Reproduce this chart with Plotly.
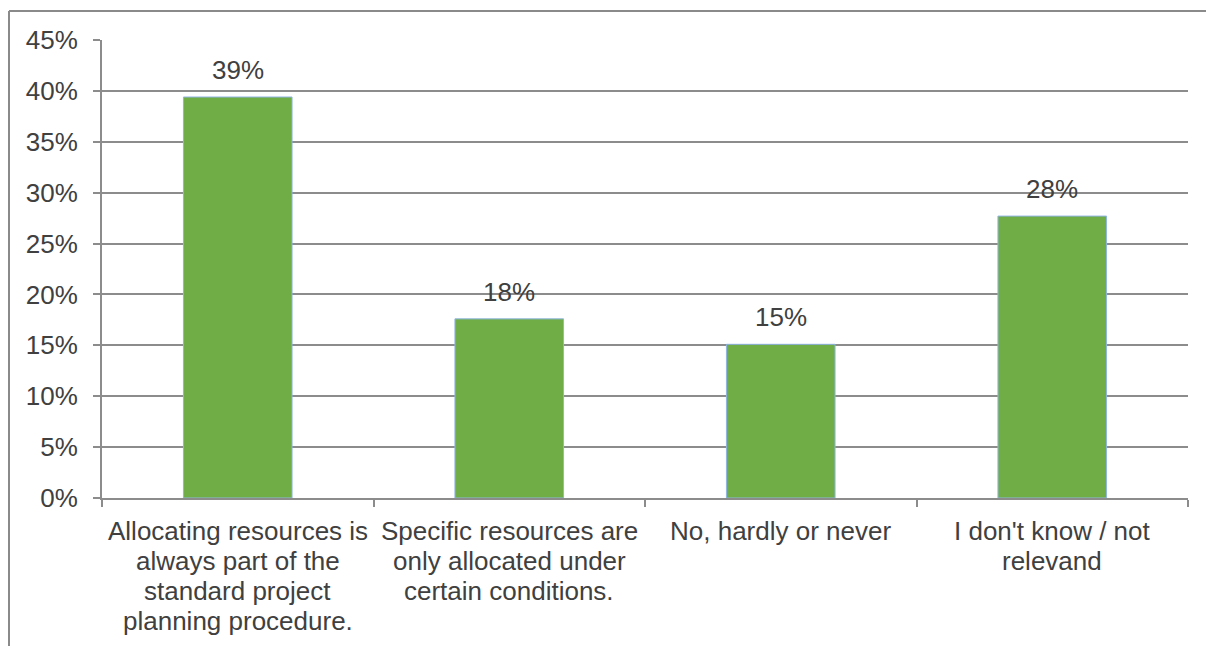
import plotly.graph_objects as go

categories = [
    "Allocating resources is<br>always part of the<br>standard project<br>planning procedure.",
    "Specific resources are<br>only allocated under<br>certain conditions.",
    "No, hardly or never",
    "I don't know / not<br>relevand",
]
values = [0.394, 0.176, 0.151, 0.277]
value_labels = ["39%", "18%", "15%", "28%"]

FONT = "Liberation Sans, Arial, sans-serif"
TXT = "#404040"
GRID = "#8c8c8c"
FS = 26

fig = go.Figure()
fig.add_trace(go.Bar(
    x=categories, y=values, width=0.4,
    marker=dict(color="#70AD47", line=dict(color="#8FB4E3", width=1)),
    cliponaxis=False,
))

# data labels above bars
for c, v, t in zip(categories, values, value_labels):
    fig.add_annotation(x=c, y=v, text=t, showarrow=False, yanchor="middle",
                       yshift=27, font=dict(family=FONT, size=FS, color=TXT))

# category labels, one annotation per line (tighter line spacing as in reference)
for c in categories:
    for i, line in enumerate(c.split("<br>")):
        fig.add_annotation(x=c, y=0, text=line, showarrow=False, yanchor="middle",
                           yshift=-(33 + 30 * i), font=dict(family=FONT, size=FS, color=TXT))

fig.update_layout(
    width=1214, height=646,
    margin=dict(l=94, r=34, t=32, b=156),
    paper_bgcolor="white", plot_bgcolor="white",
    showlegend=False,
    font=dict(family=FONT, size=FS, color=TXT),
)
fig.update_yaxes(
    range=[0, 0.45], dtick=0.05, tickformat=".0%",
    showgrid=True, gridcolor=GRID, gridwidth=2,
    showline=True, linecolor=GRID, linewidth=2,
    ticks="outside", ticklen=7, tickcolor=GRID, tickwidth=2,
    ticklabelstandoff=10, zeroline=False,
    tickfont=dict(family=FONT, size=FS, color=TXT),
)
fig.update_xaxes(
    tickson="boundaries", ticks="outside", ticklen=7, tickcolor=GRID, tickwidth=2,
    showline=True, linecolor=GRID, linewidth=2, showgrid=False,
    showticklabels=False,
)

# outer chart frame (cropped at right/bottom in the reference)
pw = 1214 - 94 - 34
ph = 646 - 32 - 156
x0 = (1 - 94) / pw
ytop = (ph + 32 - 3) / ph
fig.add_shape(type="line", xref="paper", yref="paper", x0=x0, x1=x0, y0=ytop, y1=-0.6,
              line=dict(color="#8a8a8a", width=2))
fig.add_shape(type="line", xref="paper", yref="paper", x0=x0, x1=1.2, y0=ytop, y1=ytop,
              line=dict(color="#8a8a8a", width=2))

fig.write_html("out.html")
